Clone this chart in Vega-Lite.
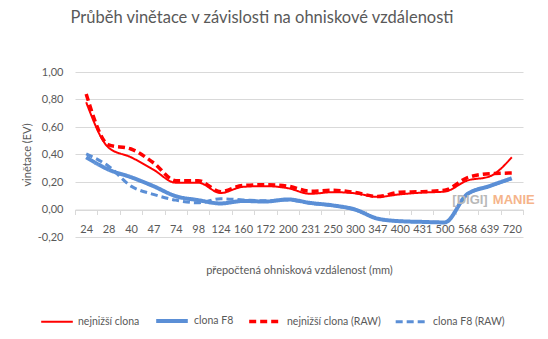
{
  "$schema": "https://vega.github.io/schema/vega-lite/v6.json",
  "width": 448,
  "height": 165,
  "autosize": {"type": "none"},
  "padding": {"left": 75, "top": 72, "right": 25, "bottom": 102},
  "background": "white",
  "config": {
    "font": "Lato",
    "view": {"stroke": null},
    "title": {"font": "Lato", "fontSize": 16.5, "fontWeight": "normal", "color": "#595959"}
  },
  "title": {"text": "Průběh vinětace v závislosti na ohniskové vzdálenosti", "anchor": "middle", "dx": -37, "offset": 40},
  "data": {"values": [
    {"f": "24", "s": "nejnižší clona", "v": 0.78},
    {"f": "28", "s": "nejnižší clona", "v": 0.45},
    {"f": "40", "s": "nejnižší clona", "v": 0.38},
    {"f": "47", "s": "nejnižší clona", "v": 0.29},
    {"f": "74", "s": "nejnižší clona", "v": 0.195},
    {"f": "98", "s": "nejnižší clona", "v": 0.195},
    {"f": "124", "s": "nejnižší clona", "v": 0.12},
    {"f": "160", "s": "nejnižší clona", "v": 0.165},
    {"f": "172", "s": "nejnižší clona", "v": 0.17},
    {"f": "200", "s": "nejnižší clona", "v": 0.155},
    {"f": "231", "s": "nejnižší clona", "v": 0.114},
    {"f": "250", "s": "nejnižší clona", "v": 0.126},
    {"f": "300", "s": "nejnižší clona", "v": 0.118},
    {"f": "347", "s": "nejnižší clona", "v": 0.092},
    {"f": "400", "s": "nejnižší clona", "v": 0.11},
    {"f": "431", "s": "nejnižší clona", "v": 0.123},
    {"f": "500", "s": "nejnižší clona", "v": 0.13},
    {"f": "568", "s": "nejnižší clona", "v": 0.21},
    {"f": "639", "s": "nejnižší clona", "v": 0.24},
    {"f": "720", "s": "nejnižší clona", "v": 0.38},
    {"f": "24", "s": "clona F8", "v": 0.38},
    {"f": "28", "s": "clona F8", "v": 0.29},
    {"f": "40", "s": "clona F8", "v": 0.235},
    {"f": "47", "s": "clona F8", "v": 0.17},
    {"f": "74", "s": "clona F8", "v": 0.097},
    {"f": "98", "s": "clona F8", "v": 0.068},
    {"f": "124", "s": "clona F8", "v": 0.044},
    {"f": "160", "s": "clona F8", "v": 0.062},
    {"f": "172", "s": "clona F8", "v": 0.058},
    {"f": "200", "s": "clona F8", "v": 0.073},
    {"f": "231", "s": "clona F8", "v": 0.048},
    {"f": "250", "s": "clona F8", "v": 0.03},
    {"f": "300", "s": "clona F8", "v": 0.0},
    {"f": "347", "s": "clona F8", "v": -0.066},
    {"f": "400", "s": "clona F8", "v": -0.085},
    {"f": "431", "s": "clona F8", "v": -0.09},
    {"f": "500", "s": "clona F8", "v": -0.094},
    {"f": "568", "s": "clona F8", "v": 0.11},
    {"f": "639", "s": "clona F8", "v": 0.17},
    {"f": "720", "s": "clona F8", "v": 0.227},
    {"f": "24", "s": "nejnižší clona (RAW)", "v": 0.84},
    {"f": "28", "s": "nejnižší clona (RAW)", "v": 0.47},
    {"f": "40", "s": "nejnižší clona (RAW)", "v": 0.44},
    {"f": "47", "s": "nejnižší clona (RAW)", "v": 0.34},
    {"f": "74", "s": "nejnižší clona (RAW)", "v": 0.21},
    {"f": "98", "s": "nejnižší clona (RAW)", "v": 0.21},
    {"f": "124", "s": "nejnižší clona (RAW)", "v": 0.13},
    {"f": "160", "s": "nejnižší clona (RAW)", "v": 0.175},
    {"f": "172", "s": "nejnižší clona (RAW)", "v": 0.18},
    {"f": "200", "s": "nejnižší clona (RAW)", "v": 0.17},
    {"f": "231", "s": "nejnižší clona (RAW)", "v": 0.133},
    {"f": "250", "s": "nejnižší clona (RAW)", "v": 0.14},
    {"f": "300", "s": "nejnižší clona (RAW)", "v": 0.124},
    {"f": "347", "s": "nejnižší clona (RAW)", "v": 0.094},
    {"f": "400", "s": "nejnižší clona (RAW)", "v": 0.126},
    {"f": "431", "s": "nejnižší clona (RAW)", "v": 0.13},
    {"f": "500", "s": "nejnižší clona (RAW)", "v": 0.14},
    {"f": "568", "s": "nejnižší clona (RAW)", "v": 0.23},
    {"f": "639", "s": "nejnižší clona (RAW)", "v": 0.26},
    {"f": "720", "s": "nejnižší clona (RAW)", "v": 0.265},
    {"f": "24", "s": "clona F8 (RAW)", "v": 0.405},
    {"f": "28", "s": "clona F8 (RAW)", "v": 0.315},
    {"f": "40", "s": "clona F8 (RAW)", "v": 0.17},
    {"f": "47", "s": "clona F8 (RAW)", "v": 0.11},
    {"f": "74", "s": "clona F8 (RAW)", "v": 0.068},
    {"f": "98", "s": "clona F8 (RAW)", "v": 0.049},
    {"f": "124", "s": "clona F8 (RAW)", "v": 0.078},
    {"f": "160", "s": "clona F8 (RAW)", "v": 0.07},
    {"f": "172", "s": "clona F8 (RAW)", "v": 0.063},
    {"f": "200", "s": "clona F8 (RAW)", "v": 0.07},
    {"f": "231", "s": "clona F8 (RAW)", "v": 0.046},
    {"f": "250", "s": "clona F8 (RAW)", "v": 0.028},
    {"f": "300", "s": "clona F8 (RAW)", "v": 0.0},
    {"f": "347", "s": "clona F8 (RAW)", "v": -0.066},
    {"f": "400", "s": "clona F8 (RAW)", "v": -0.085},
    {"f": "431", "s": "clona F8 (RAW)", "v": -0.09},
    {"f": "500", "s": "clona F8 (RAW)", "v": -0.094},
    {"f": "568", "s": "clona F8 (RAW)", "v": 0.11},
    {"f": "639", "s": "clona F8 (RAW)", "v": 0.17},
    {"f": "720", "s": "clona F8 (RAW)", "v": 0.225}
  ]},
  "encoding": {
    "x": {
      "field": "f", "type": "ordinal",
      "scale": {
        "type": "band",
        "domain": ["24","28","40","47","74","98","124","160","172","200","231","250","300","347","400","431","500","568","639","720"],
        "paddingInner": 0, "paddingOuter": 0
      },
      "axis": {
        "title": "přepočtená ohnisková vzdálenost (mm)",
        "titleFont": "Lato", "titleFontSize": 11, "titleFontWeight": "normal", "titleColor": "#595959",
        "titleY": 55,
        "labelAngle": 0, "labelFont": "Lato", "labelFontSize": 11, "labelColor": "#595959", "labelPadding": 9,
        "labelOverlap": false,
        "offset": -27.5,
        "domainColor": "#d9d9d9", "tickColor": "#d9d9d9", "tickSize": 5, "tickBand": "extent",
        "grid": false
      }
    },
    "y": {
      "field": "v", "type": "quantitative",
      "scale": {"domain": [-0.2, 1.0], "nice": false},
      "axis": {
        "title": "vinětace (EV)",
        "titleFont": "Lato", "titleFontSize": 11, "titleFontWeight": "normal", "titleColor": "#595959",
        "titleX": -43,
        "values": [-0.2, 0, 0.2, 0.4, 0.6, 0.8, 1.0],
        "labelOverlap": false,
        "labelExpr": "(datum.value < 0 ? '-' : '') + replace(format(abs(datum.value), '.2f'), '.', ',')",
        "labelFont": "Lato", "labelFontSize": 11, "labelColor": "#595959", "labelPadding": 12,
        "domainOpacity": 0, "tickColor": "rgba(0,0,0,0)", "tickSize": 0,
        "grid": true, "gridColor": "#d9d9d9", "gridWidth": 1, "gridOpacity": 1
      }
    }
  },
  "layer": [
    {
      "mark": {"type": "line", "interpolate": "monotone"},
      "encoding": {
        "color": {
          "field": "s", "type": "nominal",
          "scale": {
            "domain": ["nejnižší clona", "clona F8", "nejnižší clona (RAW)", "clona F8 (RAW)"],
            "range": ["#ff0000", "#5b8fd6", "#ff0000", "#5b8fd6"]
          },
          "legend": {
            "title": null, "orient": "none", "direction": "horizontal",
            "legendX": -35, "legendY": 231,
            "symbolType": "stroke", "symbolSize": 1000, "symbolStrokeWidth": 3,
            "labelFont": "Lato", "labelFontSize": 10.5, "labelColor": "#595959",
            "columnPadding": 8, "labelOffset": 4
          }
        },
        "strokeDash": {
          "field": "s", "type": "nominal",
          "scale": {
            "domain": ["nejnižší clona", "clona F8", "nejnižší clona (RAW)", "clona F8 (RAW)"],
            "range": [[1, 0], [1, 0], [7, 4], [7, 4]]
          }
        },
        "strokeWidth": {
          "field": "s", "type": "nominal",
          "scale": {
            "type": "ordinal",
            "domain": ["nejnižší clona", "clona F8", "nejnižší clona (RAW)", "clona F8 (RAW)"],
            "range": [2, 4, 3.5, 3]
          }
        }
      }
    },
    {
      "transform": [{"filter": "datum.f == '568' && datum.s == 'clona F8'"}],
      "mark": {"type": "text", "text": "[DIGI]", "font": "Liberation Sans", "fontWeight": "bold", "fontSize": 13, "color": "#b8b8b8", "align": "center", "baseline": "middle", "dx": 3, "dy": 6}
    },
    {
      "transform": [{"filter": "datum.f == '720' && datum.s == 'clona F8'"}],
      "mark": {"type": "text", "text": "MANIE", "font": "Liberation Sans", "fontWeight": "bold", "fontSize": 13, "color": "#f5b48a", "align": "center", "baseline": "middle", "dx": 2, "dy": 22}
    }
  ]
}
